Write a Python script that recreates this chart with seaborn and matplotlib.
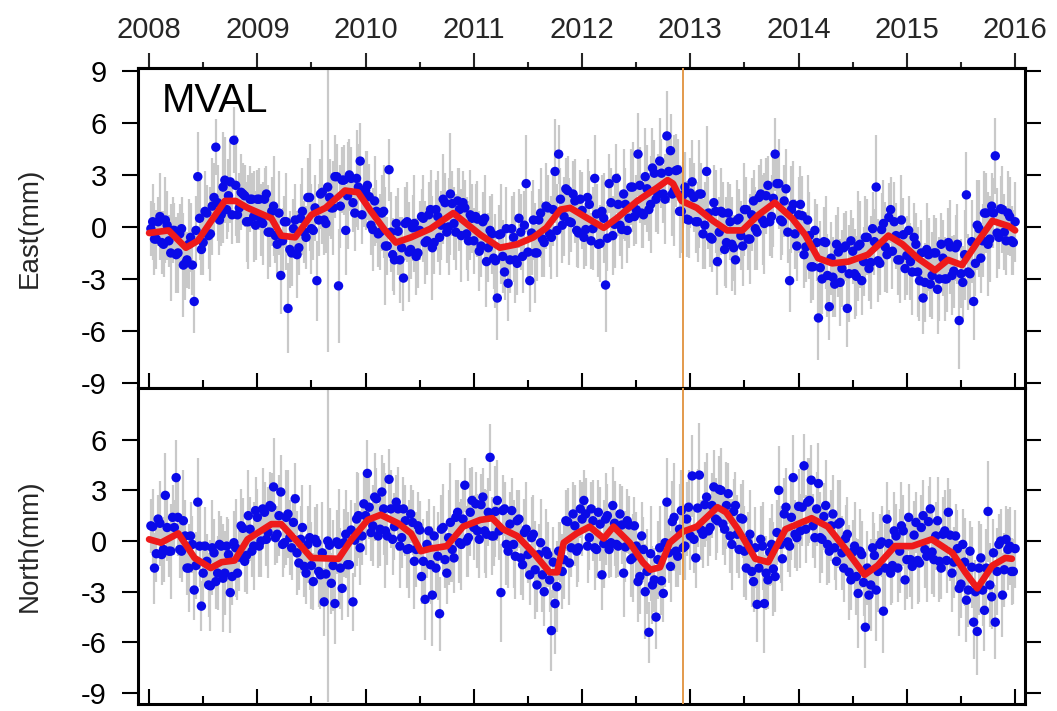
import numpy as np
import pandas as pd
import matplotlib
matplotlib.use("Agg")
import matplotlib.pyplot as plt
import seaborn as sns
from matplotlib.ticker import MultipleLocator

# ---------------- data ----------------
station = "MVAL"
n_per_year = 30
years = list(range(2008, 2016))
year_ticks = list(range(2008, 2017))
offset_epoch = 2012.93   # vertical orange line

# East positions (mm), set A: 30 samples per year at mid-steps, 2008..2015
east_vals = [
    -0.1, -0.7, 0.3, -0.9, 0.4, -0.8, -0.2, -1.6, -0.4, -2.2, -1.9, -0.6, -4.3, 2.9, -1.3,
    0.9, -0.5, 1.2, 4.6, 0.4, 2.3, 1.0, 2.6, 5.0, 0.7, 2.0, 1.8, 0.3, 1.6, 0.1,
    1.6, 0.2, 1.9, -0.3, 1.2, -1.0, -2.8, 0.3, -4.7, -1.5, 0.4, -1.2, 0.9, -0.6, 1.7,
    -0.2, -3.1, 1.9, 0.4, 2.3, 1.1, 2.9, -3.4, 2.7, -0.2, 3.0, 1.4, 2.8, 3.8, 1.9,
    2.4, 0.1, 1.5, -0.4, 0.8, -1.1, 3.3, -1.6, 0.2, -1.9, -2.95, 0.3, -1.3, 0.2, -1.5,
    0.6, -0.9, 0.7, -1.2, 1.0, -0.6, 1.6, -0.3, 1.9, 0.2, 1.5, -0.5, 1.1, -0.8, 0.5,
    0.6, -1.4, 0.3, -2.0, -0.2, -1.8, -4.1, -0.4, -2.6, -3.25, -0.1, -1.9, 0.5, -1.7, 2.5,
    -3.1, 0.4, -1.5, 0.8, -0.9, 1.1, -0.6, 3.2, 4.2, 0.1, 2.2, 0.3, 1.9, -0.2, 1.6,
    -0.6, 1.7, -0.8, 2.8, -1.0, 0.9, -3.35, 2.5, -0.5, 2.8, 0.1, 1.9, -0.2, 2.3, 0.6,
    4.2, 0.8, 2.9, 1.0, 3.4, 1.6, 3.8, 1.9, 5.25, 4.4, 2.1, 3.3, 0.9, 2.3, 0.4,
    2.6, 0.3, 1.9, -0.4, 3.2, -0.6, 1.4, -2.0, 0.9, -1.3, 0.8, -1.0, -1.9, 0.5, -1.1,
    1.0, -0.7, 1.5, -0.3, 1.9, 0.2, 2.4, 0.6, 4.2, 2.5, 0.3, 2.2, -3.1, 1.3, -1.1,
    1.3, -1.6, 0.4, -2.3, -0.2, -5.25, -3.0, -0.9, -4.6, -2.9, -1.0, -3.2, -1.2, -4.7, -0.8,
    -2.7, -1.1, -3.1, -0.6, -2.4, -0.1, 2.3, -2.1, 0.2, -1.6, 1.0, 0.3, -1.9, 0.4, -2.4,
    -0.2, -2.6, -1.0, -3.1, -4.1, -1.3, -3.3, -1.5, -3.6, -1.0, -3.0, -0.9, -2.8, -1.2, -5.4,
    -3.2, 1.85, -2.7, -4.3, 0.1, -1.8, 0.8, -1.0, 1.2, 4.1, -0.6, 1.0, -0.8, 0.6, -0.9,
]
# East set B: 30 samples per year at whole steps
east_vals_b = [
    0.3, -0.7, 0.6, -1.0, 0.1, -1.5, -0.2, -1.5, -0.1, -2.1, -1.0, -2.2, -0.2, 0.5, -0.9,
    0.8, -0.4, 1.7, 1.4, 0.7, 2.7, 1.8, 0.7, 2.4, 1.1, 1.9, 0.3, 1.6, 0.6, 1.6,
    0.4, 1.6, -0.3, 0.9, -0.5, 0.8, -0.8, 0.3, -1.3, -0.1, -1.6, 0.5, -0.3, 1.7, -0.1,
    1.1, 0.4, 2.0, 0.2, 1.7, 1.1, 2.9, 1.2, 2.7, 1.8, 2.8, 0.8, 2.3, 0.7, 2.1,
    1.75, -0.15, 0.9, -0.3, 0.9, -1.1, -0.3, -1.9, -0.25, -1.2, 0.2, -1.45, -0.05, -1.7, -0.2,
    0.5, -0.8, 1.0, -0.9, 0.6, 0.1, 1.4, 0.0, 1.35, -0.3, 1.0, 1.4, -0.4, 0.7, -0.8,
    0.45, -1.1, 0.5, -1.2, -0.4, -1.95, -0.45, -1.7, -0.1, -1.9, -0.6, -2.1, -0.3, 0.1, -1.45,
    -0.35, -1.5, 0.4, -0.7, 1.2, -0.4, 1.0, -0.2, 1.6, 0.6, 2.1, 0.25, 1.5, -0.35, 0.95,
    -0.15, 1.3, -0.1, 0.75, -0.95, 0.5, -0.65, 1.4, 0.15, 1.3, -0.15, 1.3, 0.5, 2.3, 1.0,
    2.4, 0.7, 2.2, 1.3, 3.1, 1.9, 3.1, 1.6, 3.2, 1.9, 3.25, 0.9, 1.85, 0.45, 1.95,
    1.7, 0.3, 1.9, 0.1, 0.8, -0.7, 0.9, -0.3, 0.8, -0.9, 0.3, -1.2, 0.4, -0.5, 1.0,
    -0.7, 0.7, -0.1, 1.7, 0.4, 1.8, 0.3, 1.65, 2.5, 0.4, 1.5, -0.3, 1.0, -0.4, 0.7,
    0.65, -1.15, -0.5, -2.3, -0.9, -2.35, -0.85, -2.8, -1.8, -3.3, -1.45, -2.4, -1.1, -2.7, -1.4,
    -2.85, -1.0, -2.0, -0.6, -2.05, -0.85, -1.95, -0.15, -1.15, 0.55, -1.4, -0.5, -1.9, -0.45, -1.65,
    -2.0, -0.6, -2.6, -1.5, -3.2, -1.6, -2.8, -1.5, -3.0, -1.8, -3.0, -1.15, -2.55, -1.0, -2.7,
    -1.6, -2.6, -0.85, -2.1, -0.1, -0.8, 0.8, -0.7, 0.8, -0.35, 1.05, -0.3, 0.8, -0.8, 0.3,
]

north_vals = [
    0.9, -1.6, 1.3, -0.8, 2.7, -0.6, 1.4, 3.75, -0.5, 1.2, -1.6, 0.3, -2.9, 2.3, -3.85,
    -0.3, -2.6, -0.4, -2.4, -0.2, -2.2, -0.3, -3.05, -0.1, -1.9, 0.9, -1.2, 1.5, -0.6, 1.8,
    -0.3, 1.9, 0.1, 2.1, 3.2, 0.4, 2.9, -0.1, 1.6, -0.4, 2.5, -1.3, 0.8, -1.9, 0.2,
    -2.4, -0.1, -2.0, -3.6, 0.0, -2.5, -3.7, -0.2, -2.8, 0.4, -1.4, -3.6, 1.3, -0.4, 2.2,
    4.0, 0.5, 2.6, 0.3, 2.9, 0.6, 3.65, 0.1, 2.3, -0.3, 1.9, -0.5, 1.6, -1.2, 0.9,
    -2.1, -3.45, 0.6, -3.2, -1.6, -4.3, 0.8, -1.9, 1.1, -1.0, 1.7, -0.2, 3.3, 0.2, 2.4,
    2.2, 0.1, 2.6, 0.4, 4.95, 0.3, 2.4, -3.05, 1.9, -0.6, 1.8, -0.9, 1.3, -1.4, 0.7,
    -2.0, 0.4, -2.6, -0.1, -3.0, -0.8, -5.3, -3.7, -0.6, -1.8, 1.2, -1.3, 1.6, -0.6, 1.9,
    2.4, -0.3, 1.9, -0.4, 1.7, -2.0, 1.3, -0.5, 2.1, -0.2, 1.6, -1.9, 1.2, -1.1, 0.9,
    -2.4, 0.3, -3.0, -5.4, -2.6, -4.5, -0.4, -3.1, 2.3, -1.5, 1.4, -0.9, 1.8, -0.3, 2.0,
    3.85, -1.0, 3.9, 0.4, 2.6, 0.8, 3.2, 1.2, 3.0, 0.7, 2.8, -0.2, 2.1, -0.5, 1.3,
    -1.6, 0.4, -2.4, -3.75, 0.1, -3.7, -2.3, -0.2, -2.1, 3.0, -1.05, 2.0, -0.3, 3.75, 0.2,
    0.6, 4.45, 2.3, 3.6, 0.2, 3.4, 0.1, 2.1, -0.6, 1.6, -1.2, 1.1, -1.6, 0.4, -2.3,
    -0.3, -3.1, -0.8, -5.1, -3.2, -0.4, -2.9, -0.2, -4.15, 1.3, -1.9, 0.6, -1.6, 0.9, -2.3,
    1.4, -1.5, 1.1, -1.3, 1.5, -0.9, 1.9, -1.1, 1.2, -1.6, 0.6, 1.7, -1.9, 0.3, -2.8,
    -0.2, -3.5, -0.6, -4.8, -5.35, -1.0, -4.1, 1.75, -3.3, -4.8, -0.2, -3.2, 0.1, -0.3, -1.8,
]
north_vals_b = [
    0.85, -0.75, 1.05, -0.5, 0.8, -0.6, 0.8, 1.4, -0.6, 0.3, -1.6, -0.2, -1.45, -0.3, -1.9,
    -1.2, -2.65, -0.7, -1.9, -0.3, -1.9, -0.8, -2.1, -0.4, -0.95, 0.75, -0.85, 0.7, -0.3, 1.4,
    0.0, 1.7, 0.5, 2.0, 0.2, 1.5, -0.2, 1.4, 0.2, 1.1, -0.7, 0.1, -1.5, -0.2, -1.45,
    0.1, -1.8, -0.7, -1.95, -0.25, -1.45, -0.05, -1.6, -0.1, -1.4, 0.65, 0.05, 1.5, 0.3, 1.5,
    2.0, 0.9, 2.5, 0.7, 1.9, 0.3, 1.9, 0.85, 1.9, 0.2, 1.2, -0.45, 1.1, -0.5, 0.65,
    -1.2, -0.2, -1.4, 0.3, -0.9, 0.7, -1.1, 0.2, -0.5, 1.4, -0.1, 1.3, 0.0, 1.7, 0.8,
    0.6, 2.15, 0.6, 1.7, 0.3, 1.75, 0.6, 1.8, -0.2, 1.0, -0.2, 1.2, -1.0, 0.5, -0.8,
    0.2, -1.7, -0.8, -2.0, -0.6, -2.3, -1.25, -2.7, -0.65, -1.1, 1.15, -0.4, 0.9, -0.4, 1.3,
    1.6, 0.2, 1.2, -0.5, 1.0, -0.15, 1.5, -0.1, 1.05, -0.3, 0.95, -0.35, 0.95, -1.0, -0.3,
    -2.1, -0.5, -1.8, -0.75, -2.3, -1.1, -2.35, -0.1, -0.7, 1.15, -0.6, 0.7, -0.4, 1.3, 0.3,
    0.1, 1.95, 0.65, 2.15, 0.6, 2.1, 1.3, 3.05, 1.0, 2.1, 0.3, 1.75, 0.4, 1.35, -0.6,
    -0.1, -1.8, -0.4, -1.6, -0.3, -1.9, -0.65, -1.65, 0.5, -0.2, 1.6, -0.05, 1.4, 0.4, 2.05,
    2.0, 0.7, 2.4, 0.9, 1.9, 0.2, 1.45, -0.2, 0.9, -0.4, 1.0, -0.7, 0.15, -1.85, -0.65,
    -2.1, -0.6, -2.45, -1.6, -2.6, -0.85, -1.8, -0.05, -1.6, -0.15, -1.45, 0.3, -0.6, 0.6, -1.1,
    -1.1, 0.35, -1.15, 0.8, -0.5, 1.15, -0.65, 0.3, -1.2, 0.4, -1.15, 0.35, -1.25, -0.45, -2.55,
    -1.25, -2.9, -1.55, -3.0, -1.6, -2.9, -1.6, -2.6, -0.7, -1.8, 0.0, -1.7, -0.5, -1.8, -0.45,
]

# formal errors (mm), one per sample of set A and set B
sigma_vals = [
    1.6, 2.1, 1.4, 1.8, 2.5, 1.5, 1.9, 2.2, 1.7, 3.0, 1.6, 2.0, 1.8, 2.6, 1.5, 2.3, 1.9, 2.8, 1.6, 2.0, 3.2, 1.7, 2.4, 1.9, 1.6, 2.2, 1.8, 2.7, 1.5, 2.0,
    1.8, 2.4, 1.6, 2.0, 2.9, 1.7, 2.2, 1.5, 2.6, 1.9, 2.1, 1.6, 2.5, 1.8, 3.1, 1.7, 2.3, 2.0, 2.0, 9.5, 1.8, 2.4, 3.3, 1.9, 2.6, 2.1, 1.7, 2.8, 2.2, 1.9,
    2.0, 1.7, 2.6, 1.9, 2.2, 3.4, 1.8, 2.1, 1.6, 2.5, 1.9, 2.3, 1.7, 2.8, 2.0, 1.6, 2.4, 1.9, 3.0, 1.7, 2.2, 2.6, 1.8, 3.5, 2.1, 1.9, 2.7, 1.6, 2.3, 2.0,
    1.9, 2.3, 1.7, 2.6, 2.0, 1.8, 2.4, 2.9, 1.6, 2.2, 1.9, 2.5, 1.7, 2.1, 2.8, 1.8, 2.3, 1.6, 2.6, 2.0, 1.9, 2.4, 3.0, 1.7, 2.2, 1.8, 2.5, 1.9, 2.1, 1.7,
    1.8, 2.2, 1.6, 2.5, 1.9, 2.1, 2.7, 1.7, 2.3, 2.0, 1.8, 2.6, 1.9, 2.2, 1.7, 2.4, 2.0, 2.8, 1.8, 2.3, 1.9, 2.5, 1.7, 2.6, 2.1, 3.2, 1.8, 2.4, 2.0, 2.2,
    2.4, 1.8, 3.1, 2.0, 2.6, 1.7, 2.2, 1.9, 2.5, 2.1, 1.8, 2.7, 2.0, 1.7, 2.3, 1.9, 2.6, 1.8, 2.2, 2.0, 2.9, 1.7, 2.4, 2.1, 2.6, 1.9, 2.3, 1.8, 2.5, 2.0,
    2.2, 1.9, 2.6, 2.1, 1.8, 2.4, 2.0, 2.7, 1.9, 2.3, 1.7, 2.5, 2.0, 2.2, 1.8, 2.6, 3.2, 2.0, 2.4, 1.9, 2.1, 3.0, 1.8, 2.5, 2.2, 1.9, 2.3, 2.0, 2.6, 1.8,
    2.0, 2.5, 1.8, 2.3, 2.1, 2.7, 1.9, 2.2, 2.6, 1.8, 2.4, 2.0, 2.3, 1.9, 2.8, 2.1, 2.5, 1.8, 2.2, 2.6, 2.0, 2.4, 3.0, 1.9, 2.2, 1.8, 2.5, 2.0, 2.3, 1.9,
]
sigma_vals_b = [
    2.2, 1.7, 2.5, 1.9, 2.0, 2.8, 1.6, 2.3, 1.8, 2.1, 2.6, 1.7, 2.0, 2.4, 1.9, 1.6, 2.7, 2.0, 2.2, 1.8, 2.5, 2.1, 1.7, 2.9, 2.0, 1.8, 2.3, 1.9, 2.6, 1.7,
    2.1, 1.8, 2.7, 2.0, 1.6, 2.4, 1.9, 2.8, 2.2, 1.7, 2.5, 2.0, 1.8, 2.3, 2.6, 1.9, 2.1, 3.0, 1.7, 2.2, 2.7, 1.9, 2.4, 2.0, 3.1, 1.8, 2.2, 2.5, 1.7, 2.3,
    1.9, 2.4, 1.8, 2.2, 2.7, 1.7, 2.3, 2.0, 2.5, 1.8, 2.1, 2.9, 1.9, 2.2, 1.7, 2.5, 2.0, 2.3, 1.8, 2.6, 2.0, 1.7, 2.8, 1.9, 2.2, 2.4, 1.8, 2.1, 2.6, 1.9,
    2.2, 1.8, 2.5, 2.0, 2.3, 2.7, 1.7, 2.1, 2.4, 1.9, 2.6, 1.8, 2.2, 2.0, 1.7, 2.4, 2.9, 1.8, 2.2, 2.5, 1.9, 2.1, 2.7, 1.8, 2.3, 2.0, 1.7, 2.4, 2.0, 2.2,
    2.1, 1.9, 2.4, 1.7, 2.2, 2.6, 1.9, 2.0, 2.5, 1.8, 2.3, 2.1, 1.7, 2.6, 2.0, 2.2, 1.9, 2.5, 2.8, 1.9, 2.3, 2.0, 2.6, 1.8, 2.4, 2.1, 2.7, 1.9, 2.2, 2.0,
    2.0, 2.3, 1.8, 2.5, 2.1, 1.9, 2.4, 2.0, 1.8, 2.6, 2.2, 1.9, 2.3, 2.0, 2.7, 1.8, 2.1, 2.4, 1.9, 2.6, 2.2, 2.0, 2.8, 1.9, 2.3, 2.1, 1.8, 2.5, 2.0, 2.2,
    2.3, 2.0, 2.5, 1.9, 2.2, 2.7, 2.0, 2.4, 2.1, 1.9, 2.6, 2.2, 2.0, 2.8, 1.9, 2.3, 2.5, 2.0, 2.2, 2.7, 1.9, 2.4, 2.1, 2.6, 2.0, 2.2, 1.9, 2.5, 2.1, 2.3,
    2.2, 2.0, 2.6, 1.9, 2.3, 2.1, 2.5, 2.0, 2.4, 2.2, 1.9, 2.7, 2.1, 2.3, 2.0, 2.6, 2.2, 2.4, 1.9, 2.8, 2.1, 2.3, 2.5, 2.0, 2.6, 1.9, 2.2, 2.4, 2.0, 2.3,
]

# smoothed (red) curves
east_trend_t = [2008.00, 2008.18, 2008.34, 2008.45, 2008.70, 2008.80, 2008.91, 2009.13, 2009.22, 2009.35,
                2009.50, 2009.63, 2009.81, 2009.93, 2010.05, 2010.18, 2010.28, 2010.42, 2010.60, 2010.81,
                2010.90, 2011.06, 2011.24, 2011.40, 2011.55, 2011.67, 2011.80, 2011.89, 2012.05, 2012.20,
                2012.32, 2012.51, 2012.69, 2012.79, 2012.84, 2012.92, 2013.06, 2013.21, 2013.34, 2013.48,
                2013.63, 2013.78, 2013.94, 2014.06, 2014.18, 2014.31, 2014.46, 2014.64, 2014.83, 2014.96,
                2015.10, 2015.26, 2015.38, 2015.51, 2015.66, 2015.79, 2015.94, 2016.00]
east_trend_v = [-0.35, -0.2, -1.2, -0.8, 1.5, 1.5, 1.1, 0.5, -0.5, -0.6,
                0.7, 1.1, 2.1, 2.0, 0.9, -0.2, -0.9, -0.6, -0.1, 0.8,
                0.35, -0.45, -1.2, -1.0, -0.6, -0.05, 1.0, 1.1, 0.5, -0.05,
                0.5, 1.5, 2.25, 2.7, 2.5, 1.5, 1.1, 0.35, -0.2, -0.2,
                0.7, 1.4, 0.5, -0.45, -1.8, -2.1, -2.0, -1.6, -0.5, -1.0,
                -1.8, -2.5, -1.9, -2.2, -0.8, 0.35, 0.05, -0.2]

north_trend_t = [2008.00, 2008.11, 2008.27, 2008.42, 2008.57, 2008.67, 2008.79, 2008.91, 2009.13, 2009.22,
                 2009.35, 2009.50, 2009.75, 2009.87, 2010.02, 2010.14, 2010.30, 2010.42, 2010.51, 2010.60,
                 2010.75, 2010.90, 2011.06, 2011.17, 2011.27, 2011.40, 2011.55, 2011.70, 2011.77, 2011.83,
                 2011.95, 2012.07, 2012.20, 2012.29, 2012.44, 2012.56, 2012.63, 2012.72, 2012.81, 2012.93,
                 2013.06, 2013.25, 2013.33, 2013.44, 2013.60, 2013.72, 2013.88, 2014.12, 2014.27, 2014.43,
                 2014.61, 2014.73, 2014.89, 2015.05, 2015.23, 2015.42, 2015.54, 2015.65, 2015.79, 2015.91,
                 2015.97]
north_trend_v = [0.1, -0.1, 0.45, -1.0, -1.6, -1.25, -1.15, 0.1, 1.0, 1.0,
                 0.1, -1.0, -1.05, 0.1, 1.25, 1.55, 1.05, 0.45, -0.6, -0.45,
                 -0.3, 0.85, 1.25, 1.35, 0.7, 0.3, -0.7, -1.85, -1.85, -0.1,
                 0.45, 0.85, 0.15, 0.85, -0.1, -1.25, -1.7, -1.55, -0.1, 0.55,
                 0.85, 2.0, 1.7, 0.7, -1.05, -1.25, 0.7, 1.35, 0.85, -0.45,
                 -2.0, -1.45, -0.3, -0.3, 0.1, -0.7, -1.85, -2.8, -1.45, -1.0,
                 -1.05]

# ---------------- figure ----------------
sns.set_style("white")
plt.rcParams["font.family"] = ["Liberation Sans", "DejaVu Sans"]
plt.rcParams["axes.unicode_minus"] = False

n = len(east_vals)
t_a = years[0] + (np.arange(n) + 0.5) / n_per_year
t_b = years[0] + (np.arange(n) + 1.0) / n_per_year
df = pd.concat([
    pd.DataFrame({"t": t_a, "east": east_vals, "north": north_vals, "sig": sigma_vals}),
    pd.DataFrame({"t": t_b, "east": east_vals_b, "north": north_vals_b, "sig": sigma_vals_b}),
], ignore_index=True)

fig = plt.figure(figsize=(10.57, 7.11), dpi=100)
fig.patch.set_facecolor("white")
ax1 = fig.add_axes([0.1306, 0.4543, 0.8392, 0.4501])
ax2 = fig.add_axes([0.1306, 0.00985, 0.8392, 0.4444])

panels = [
    (ax1, "east", east_trend_t, east_trend_v, (-9.29, 9.17), [9, 6, 3, 0, -3, -6, -9], "East(mm)"),
    (ax2, "north", north_trend_t, north_trend_v, (-9.64, 9.05), [6, 3, 0, -3, -6, -9], "North(mm)"),
]

for ax, col, tt, tv, ylim, yt, ylab in panels:
    ax.set_facecolor("white")
    ax.vlines(df["t"], df[col] - df["sig"], df[col] + df["sig"],
              color="#c9c9c9", lw=1.6, zorder=1)
    sns.scatterplot(data=df, x="t", y=col, ax=ax, color="#0a0ae8", s=46,
                    edgecolor="none", linewidth=0, zorder=2, legend=False)
    sns.lineplot(x=tt, y=tv, ax=ax, color="#ee1a1a", lw=4.8, zorder=3,
                 estimator=None, sort=False)
    ax.axvline(offset_epoch, color="#e39a4c", lw=1.4, zorder=4)
    ax.set_xlim(2007.898, 2016.092)
    ax.set_ylim(*ylim)
    ax.set_yticks(yt)
    ax.set_yticklabels([str(v) for v in yt])
    ax.set_xticks(year_ticks)
    ax.xaxis.set_minor_locator(MultipleLocator(0.5))
    ax.tick_params(axis="x", which="both", direction="in", bottom=True, top=False,
                   labelbottom=False, width=1.5, colors="black")
    ax.tick_params(axis="x", which="major", length=10.5)
    ax.tick_params(axis="x", which="minor", length=5.5)
    ax.tick_params(axis="y", which="major", direction="out", left=True, right=True,
                   labelleft=True, labelright=False, length=11.5, width=1.5,
                   labelsize=21, pad=11, colors="black")
    for sp in ax.spines.values():
        sp.set_visible(True)
        sp.set_color("black")
        sp.set_linewidth(2.2)
    ax.set_xlabel("")
    ax.set_ylabel(ylab, fontsize=20)
    ax.yaxis.label.set_va("center")
    ax.yaxis.set_label_coords(-0.122, 0.5)

# top year labels with outward ticks
sec = ax1.secondary_xaxis("top")
sec.set_xticks(year_ticks)
sec.set_xticklabels([str(y) for y in year_ticks])
sec.xaxis.set_minor_locator(MultipleLocator(0.5))
sec.tick_params(axis="x", which="major", direction="out", length=10.5, width=1.5,
                labelsize=21, pad=7)
sec.tick_params(axis="x", which="minor", direction="out", length=4.5, width=1.5)
sec.spines["top"].set_linewidth(2.2)

ax1.text(0.027, 0.897, station, transform=ax1.transAxes, fontsize=29,
         ha="left", va="center", color="black", zorder=5)

fig.savefig("out.png", dpi=100, facecolor="white")
